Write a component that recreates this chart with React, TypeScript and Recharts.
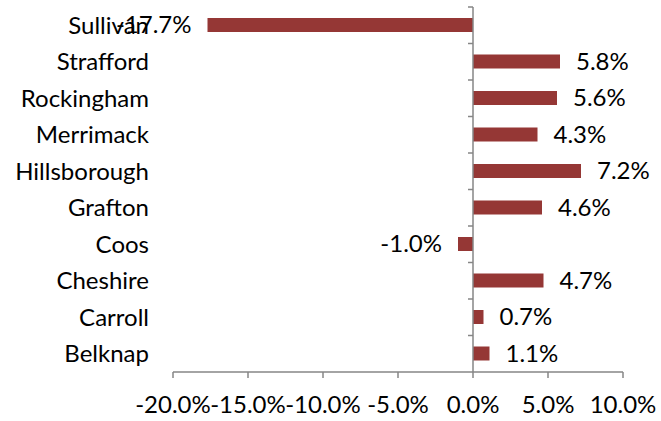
import { BarChart, Bar, XAxis, YAxis, ReferenceLine, LabelList } from 'recharts';

const counties = ['Sullivan', 'Strafford', 'Rockingham', 'Merrimack', 'Hillsborough', 'Grafton', 'Coos', 'Cheshire', 'Carroll', 'Belknap'];
const changes = [-17.7, 5.8, 5.6, 4.3, 7.2, 4.6, -1.0, 4.7, 0.7, 1.1];
const xTicks = [-20, -15, -10, -5, 0, 5, 10];

const data = counties.map((name, i) => ({ name, value: changes[i] }));

const W = 661;
const H = 421;
const LEFT = 173;
const RIGHT = 38;
const TOP = 7;
const XAXIS_H = 49;
const PLOT_W = W - LEFT - RIGHT;
const PLOT_H = H - TOP - XAXIS_H;
const ZERO_X = LEFT + (PLOT_W * 20) / 30;
const BAND = PLOT_H / counties.length;

const AXIS = '#868686';
const FONT = 'Lato, "Open Sans", sans-serif';

const CountyTick = (props: any) => {
  const { y, payload } = props;
  return (
    <g>
      <text x={LEFT - 24} y={y} dy='0.35em' textAnchor='end' fontSize={24} fontFamily={FONT} fill='#000'>
        {payload.value}
      </text>
      <line x1={ZERO_X - 5} x2={ZERO_X} y1={y - BAND / 2} y2={y - BAND / 2} stroke={AXIS} strokeWidth={1.5} />
    </g>
  );
};

const PctTick = (props: any) => {
  const { x, y, payload } = props;
  return (
    <text x={x} y={y} dy='0.71em' textAnchor='middle' fontSize={24} fontFamily={FONT} fill='#000'>
      {`${payload.value.toFixed(1)}%`}
    </text>
  );
};

const ValueLabel = (props: any) => {
  const { x, y, width, height, value } = props;
  const a = Number(x);
  const b = Number(x) + Number(width);
  const neg = value < 0;
  const end = neg ? Math.min(a, b) : Math.max(a, b);
  return (
    <text
      x={neg ? end - 16 : end + 16}
      y={Number(y) + Number(height) / 2}
      dy='0.35em'
      textAnchor={neg ? 'end' : 'start'}
      fontSize={24}
      fontFamily={FONT}
      fill='#000'
    >
      {`${Number(value).toFixed(1)}%`}
    </text>
  );
};

export default function App() {
  return (
    <div style={{ position: 'absolute', left: 0, top: 0, width: W, height: H, background: '#fff' }}>
      <BarChart
        width={W}
        height={H}
        data={data}
        layout='vertical'
        barSize={14}
        margin={{ top: TOP, right: RIGHT, bottom: 0, left: 0 }}
      >
        <XAxis
          type='number'
          domain={[-20, 10]}
          ticks={xTicks}
          interval={0}
          height={XAXIS_H}
          stroke={AXIS}
          strokeWidth={1.5}
          tickSize={6}
          tickMargin={18}
          tick={<PctTick />}
        />
        <YAxis type='category' dataKey='name' width={LEFT} axisLine={false} tickLine={false} tick={<CountyTick />} interval={0} />
        <ReferenceLine x={0} stroke={AXIS} strokeWidth={1.5} />
        <Bar dataKey='value' fill='#953735' isAnimationActive={false}>
          <LabelList dataKey='value' content={<ValueLabel />} />
        </Bar>
      </BarChart>
    </div>
  );
}
